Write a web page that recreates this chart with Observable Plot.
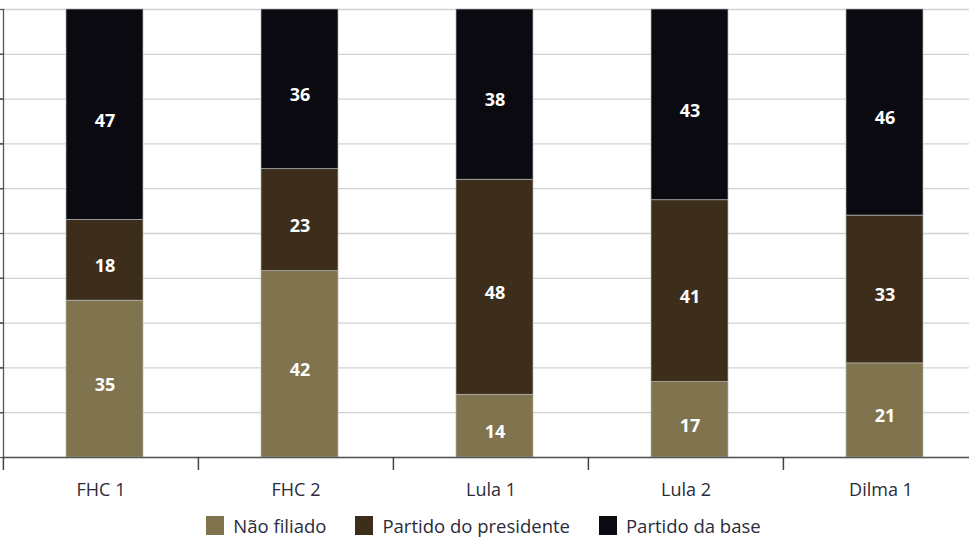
<!DOCTYPE html>
<html>
<head>
<meta charset="utf-8">
<script src="https://cdn.jsdelivr.net/npm/d3@7"></script>
<script src="https://cdn.jsdelivr.net/npm/@observablehq/plot@0.6"></script>
<style>
  html, body { margin: 0; padding: 0; background: #fff; overflow: hidden; }
  #chart { width: 969px; }
  .legend { display: flex; justify-content: center; align-items: center; gap: 29px;
            font-family: "Open Sans", sans-serif; font-size: 18.5px; color: #2b2b3a;
            height: 27px; padding-top: 2px; padding-right: 2px; }
  .legend .item { display: flex; align-items: center; gap: 9px; }
  .legend .sw { width: 18px; height: 19px; display: inline-block; }
</style>
</head>
<body>
<div id="chart"></div>
<script>
// Mandatos presidenciais
const periods = ["FHC 1", "FHC 2", "Lula 1", "Lula 2", "Dilma 1"];
// Séries (percentual de ministros)
const groups = ["Não filiado", "Partido do presidente", "Partido da base"];
const naoFiliado = [35, 42, 14, 17, 21];
const partidoPresidente = [18, 23, 48, 41, 33];
const partidoBase = [47, 36, 38, 43, 46];
const colors = ["#80744e", "#3d2e1c", "#0b0a10"];
// Marcas do eixo vertical (proporção de 0 a 100%)
const yTicks = [0, 0.1, 0.2, 0.3, 0.4, 0.5, 0.6, 0.7, 0.8, 0.9, 1];

const seriesValues = [naoFiliado, partidoPresidente, partidoBase];
const rows = [];
groups.forEach((g, gi) => {
  periods.forEach((p, pi) => rows.push({period: p, group: g, value: seriesValues[gi][pi]}));
});

const width = 969, height = 510;
const marginLeft = 3, marginRight = 0, marginTop = 9, marginBottom = 53;
// a última faixa do eixo continua além da borda direita
const xEnd = 979;
const step = (xEnd - marginLeft) / periods.length;
const innerWidth = width - marginLeft - marginRight;
const innerHeight = height - marginTop - marginBottom;
const barShift = 4;

const chart = Plot.plot({
  width, height, marginLeft, marginRight, marginTop, marginBottom,
  style: {fontFamily: "Open Sans, sans-serif", background: "#fff"},
  x: {domain: periods, range: [marginLeft, xEnd], paddingInner: 0.605, paddingOuter: 0.3025, label: null},
  y: {domain: [0, 1], label: null},
  color: {domain: groups, range: colors},
  marks: [
    Plot.ruleY(yTicks, {y: d => d, stroke: "#d2d2d2", strokeWidth: 1.3}),
    Plot.barY(rows, {
      x: "period", y: "value", fill: "group", offset: "normalize",
      dx: barShift, stroke: "#b5b5b5", strokeWidth: 0.7
    }),
    Plot.text(rows, Plot.stackY({
      x: "period", y: "value", z: "group", offset: "normalize",
      text: d => String(d.value),
      fill: "white", fontWeight: "bold", fontSize: 18, dx: barShift, dy: 6
    })),
    Plot.frame({anchor: "left", stroke: "#555", strokeWidth: 1.3}),
    Plot.frame({anchor: "bottom", stroke: "#555", strokeWidth: 1.5}),
    // pequenos traços à esquerda do eixo vertical
    Plot.ruleY(yTicks, {y: d => d, stroke: "#555", strokeWidth: 1.2, insetLeft: -3, insetRight: innerWidth}),
    // marcas divisórias entre mandatos no eixo horizontal
    Plot.ruleX(periods, {
      x: d => d, dx: -step / 2, stroke: "#444", strokeWidth: 1.5,
      insetTop: innerHeight, insetBottom: -13
    }),
    Plot.axisX({tickSize: 0, tickPadding: 26, fontSize: 18, fill: "#2b2b3a"})
  ]
});
document.getElementById("chart").appendChild(chart);

const legend = document.createElement("div");
legend.className = "legend";
groups.forEach((g, i) => {
  const item = document.createElement("span");
  item.className = "item";
  const sw = document.createElement("span");
  sw.className = "sw";
  sw.style.background = colors[i];
  const label = document.createElement("span");
  label.textContent = g;
  item.append(sw, label);
  legend.appendChild(item);
});
document.getElementById("chart").appendChild(legend);
</script>
</body>
</html>
